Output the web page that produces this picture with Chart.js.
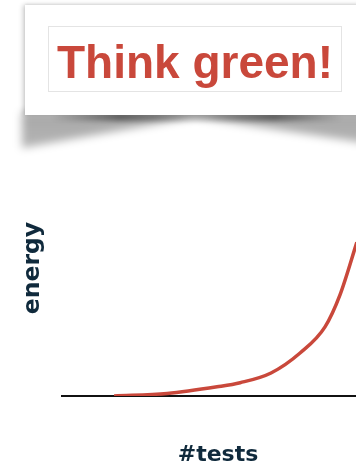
<!DOCTYPE html>
<html>
<head>
<meta charset="utf-8">
<script src="https://cdn.jsdelivr.net/npm/chart.js@4"></script>
<style>
  html, body { margin: 0; padding: 0; background: #fff; overflow: hidden; width: 356px; height: 468px; }
  .banner { position: absolute; left: 25px; top: 5px; width: 342px; height: 110px; background: #fff; z-index: 4;
            box-shadow: -2px 0 5px rgba(0,0,0,0.2), 0 -1px 3px rgba(0,0,0,0.08); }
  .shadow { position: absolute; left: 0; top: 100px; width: 400px; height: 70px; filter: blur(4px); z-index: 2; }
  .shadow div { position: absolute; left: 0; top: 0; width: 400px; height: 70px;
                background: linear-gradient(to bottom, rgba(0,0,0,0.36), rgba(0,0,0,0.26));
                clip-path: polygon(22px 12px, 372px 12px, 372px 44px, 195px 17px, 22px 48px); }
  .strip { position: absolute; left: 22px; top: 112px; width: 350px; height: 9px; filter: blur(2.5px); z-index: 3;
           background: linear-gradient(to right, rgba(0,0,0,0) 8%, rgba(0,0,0,0.45) 28%, rgba(0,0,0,0.2) 47%,
                       rgba(0,0,0,0.2) 53%, rgba(0,0,0,0.45) 72%, rgba(0,0,0,0) 92%); }
  .inner { position: absolute; left: 23px; top: 21px; width: 294px; height: 66px; box-sizing: border-box;
           border: 1px solid #e4e4e4; }
  .inner span { display: block; text-align: center; font: bold 46px "Liberation Sans", Arial, sans-serif;
                line-height: 70px; color: #c9483b; white-space: nowrap; }
  #chart { position: absolute; left: 0; top: 130px; z-index: 1; }
</style>
</head>
<body>
<div class="shadow"><div></div></div>
<div class="strip"></div>
<div class="banner">
  <div class="inner"><span>Think green!</span></div>
</div>
<canvas id="chart" width="374" height="350"></canvas>
<script>
// curve (arbitrary units)
const testsValues = [1.67, 3.37, 4.97, 5.71, 6.7, 7.63, 8.43, 8.91, 9.45];
const energyValues = [0, 0.10, 0.36, 0.52, 0.9, 1.68, 2.70, 3.95, 6.0];
const xTitle = '#tests';
const yTitle = 'energy';

const navy = '#102a3c';
const red = '#c9483b';

const points = testsValues.map((x, i) => ({ x: x, y: energyValues[i] }));

new Chart(document.getElementById('chart').getContext('2d'), {
    type: 'line',
    data: {
        datasets: [{
            data: points,
            borderColor: red,
            borderWidth: 3.5,
            pointRadius: 0,
            fill: false,
            cubicInterpolationMode: 'monotone'
        }]
    },
    options: {
        responsive: false,
        animation: false,
        events: [],
        layout: { padding: { top: 10, left: 0, right: 0, bottom: 0 } },
        plugins: { legend: { display: false }, tooltip: { enabled: false } },
        scales: {
            x: {
                type: 'linear', min: 0, max: 10,
                grid: { display: false, drawTicks: false },
                border: { display: true, color: '#111', width: 2 },
                ticks: { display: false },
                title: {
                    display: true, text: xTitle, color: navy,
                    font: { family: 'DejaVu Sans', weight: 'bold', size: 22, lineHeight: 1.2 },
                    padding: { top: 45.8, bottom: 11.8 }
                }
            },
            y: {
                type: 'linear', min: 0, max: 10,
                grid: { display: false, drawTicks: false },
                border: { display: false },
                ticks: { display: false },
                title: {
                    display: true, text: yTitle, color: navy,
                    font: { family: 'DejaVu Sans', weight: 'bold', size: 23.5, lineHeight: 1.2 },
                    padding: { top: 18.9, bottom: 14.9 }
                }
            }
        }
    }
});
</script>
</body>
</html>
